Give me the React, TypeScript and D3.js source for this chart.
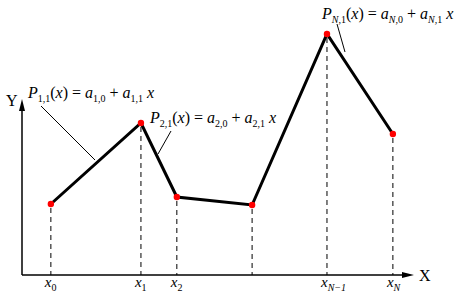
import React from "react";
import * as d3 from "d3";

const xs = [7.4, 30.5, 39.7, 59, 78.2, 95.1];
const ys = [28.4, 60.8, 31.2, 28, 96.4, 56.4];
const tickSubs = ["0", "1", "2", "", "N\u22121", "N"];

const W = 468;
const H = 297;

export default function App() {
  const x = d3.scaleLinear().domain([0, 100]).range([22, 412]);
  const y = d3.scaleLinear().domain([0, 100]).range([275, 25]);
  const pts: [number, number][] = xs.map((v, i) => [x(v), y(ys[i])]);
  const line = d3.line()(pts) || "";
  const font = "Liberation Serif, DejaVu Serif, serif";
  const ts = { fontFamily: font };

  const formula = (n: string) => [
    <tspan key="p" fontStyle="italic">P</tspan>,
    <tspan key="ps" fontSize={10} dy={4} fontStyle={n === "N" ? "italic" : "normal"}>{n}</tspan>,
    <tspan key="ps2" fontSize={10}>,1</tspan>,
    <tspan key="o" dy={-4}>(</tspan>,
    <tspan key="x" fontStyle="italic">x</tspan>,
    <tspan key="e">) = </tspan>,
    <tspan key="a" fontStyle="italic">a</tspan>,
    <tspan key="as" fontSize={10} dy={4} fontStyle={n === "N" ? "italic" : "normal"}>{n}</tspan>,
    <tspan key="as2" fontSize={10}>,0</tspan>,
    <tspan key="pl" dy={-4}> + </tspan>,
    <tspan key="a2" fontStyle="italic">a</tspan>,
    <tspan key="bs" fontSize={10} dy={4} fontStyle={n === "N" ? "italic" : "normal"}>{n}</tspan>,
    <tspan key="bs2" fontSize={10}>,1</tspan>,
    <tspan key="x2" dy={-4} fontStyle="italic"> x</tspan>,
  ];

  return (
    <svg
      width={W}
      height={H}
      style={{ position: "absolute", left: 0, top: 0, background: "#fff", fontFamily: font }}
    >
      <rect width={W} height={H} fill="#fff" />
      <line x1={22} y1={275} x2={22} y2={108} stroke="#000" strokeWidth={1.5} />
      <path d="M22,99 L25,111 L19,111 Z" fill="#000" />
      <line x1={22} y1={275} x2={404} y2={275} stroke="#000" strokeWidth={1.5} />
      <path d="M414,275 L402,272 L402,278 Z" fill="#000" />
      <text x={419} y={281} fontSize={16} style={ts}>X</text>
      <text x={6} y={106} fontSize={16} style={ts}>Y</text>
      {pts.map((p, i) => (
        <line
          key={i}
          x1={p[0]}
          y1={p[1] + 4}
          x2={p[0]}
          y2={275}
          stroke="#000"
          strokeWidth={1}
          strokeDasharray="5,4"
        />
      ))}
      <path d={line} fill="none" stroke="#000" strokeWidth={3} />
      {pts.map((p, i) => (
        <circle key={i} cx={p[0]} cy={p[1]} r={3.2} fill="#ff0000" />
      ))}
      {pts.map((p, i) =>
        tickSubs[i] === "" ? null : (
          <text key={i} x={p[0] - 6} y={287} fontSize={15} style={ts}>
            <tspan fontStyle="italic">x</tspan>
            <tspan fontSize={10} dy={4} fontStyle={tickSubs[i].startsWith("N") ? "italic" : "normal"}>
              {tickSubs[i]}
            </tspan>
          </text>
        )
      )}
      <line x1={41} y1={106} x2={95} y2={160} stroke="#000" strokeWidth={1} />
      <line x1={171} y1={131} x2={158} y2={154} stroke="#000" strokeWidth={1} />
      <line x1={337} y1={24} x2={345} y2={52} stroke="#000" strokeWidth={1} />
      <text x={28} y={98} fontSize={16} style={ts}>{formula("1")}</text>
      <text x={150} y={123} fontSize={16} style={ts}>{formula("2")}</text>
      <text x={322} y={19} fontSize={16} style={ts}>{formula("N")}</text>
    </svg>
  );
}
